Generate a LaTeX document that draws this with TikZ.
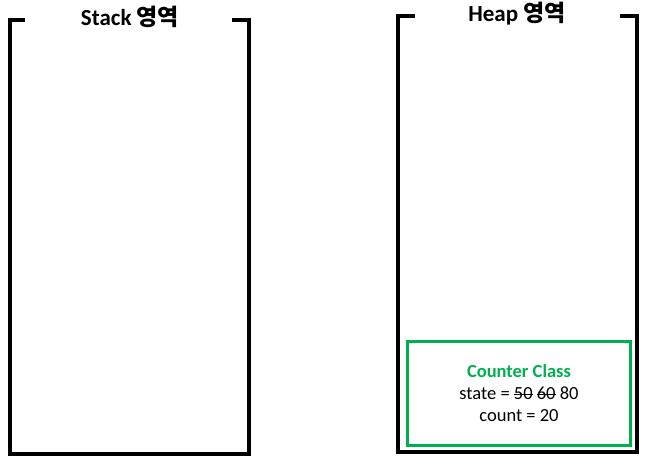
\documentclass[tikz,border=0pt]{standalone}
\usepackage{fontspec}
\setmainfont{Carlito}
\newfontfamily\krfont{Noto Sans CJK KR}
\definecolor{boxgreen}{RGB}{0,176,80}
\newlength\strklen
\newcommand\strk[1]{\settowidth\strklen{#1}\rlap{\rule[0.28em]{\strklen}{0.7pt}}#1}
\begin{document}
\begin{tikzpicture}[x=1pt,y=-1pt,
  wall/.style={line width=3.3pt,black,line cap=rect},
  title/.style={font=\fontsize{23}{27}\selectfont\bfseries,inner sep=0pt},
  objbox/.style={draw=boxgreen,line width=3pt,minimum width=223pt,minimum height=104pt,inner sep=0pt},
  body/.style={font=\fontsize{18.5}{22}\selectfont,inner sep=0pt,align=center}]
\useasboundingbox (0,0) rectangle (651,466);
% Stack
\draw[wall] (23,20) -- (10,20) -- (10,454) -- (249,454) -- (249,20) -- (234,20);
\node[title] (stitle) at (130,17) {Stack {\krfont 영역}};
% Heap
\draw[wall] (413,16) -- (398,16) -- (398,452) -- (637,452) -- (637,16) -- (622,16);
\node[title] (htitle) at (517,13.5) {Heap {\krfont 영역}};
% Counter object
\node[objbox] (obj) at (518.5,393) {};
\node[body,text=boxgreen,font=\fontsize{18.5}{22}\selectfont\bfseries] (cname) at (519,371) {Counter Class};
\node[body] (cstate) at (519,393.5) {state = \strk{50} \strk{60} 80};
\node[body] (ccount) at (519,415.5) {count = 20};
\end{tikzpicture}
\end{document}
